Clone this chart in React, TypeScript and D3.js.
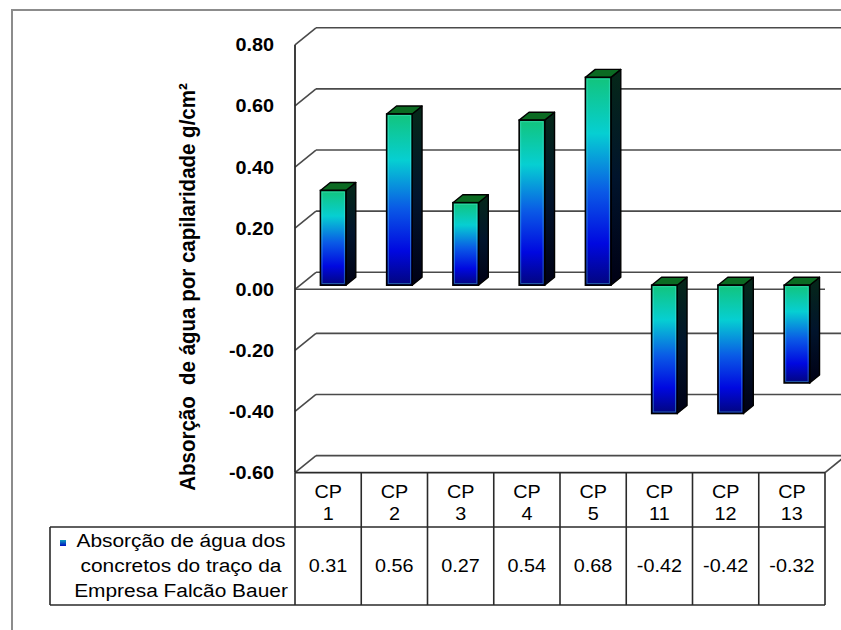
import React from "react";
import * as d3 from "d3";

// Specimens and their capillary water absorption (g/cm²)
const categories = ["CP 1", "CP 2", "CP 3", "CP 4", "CP 5", "CP 11", "CP 12", "CP 13"];
const values = [0.31, 0.56, 0.27, 0.54, 0.68, -0.42, -0.42, -0.32];
const yTicks = [-0.6, -0.4, -0.2, 0, 0.2, 0.4, 0.6, 0.8];
const seriesLabel = ["Absorção de água dos", "concretos do traço da", "Empresa Falcão Bauer"];
const axisTitle = "Absorção  de água por capilaridade g/cm²";

const W = 841;
const H = 630;
const FONT = "'Liberation Sans', Arial, Helvetica, sans-serif";
const SX = 1.1; // horizontal text stretch

// 3D plot geometry
const PLOT_LEFT = 295;
const PLOT_RIGHT = 825;
const DX = 21; // depth offset of back wall
const DY = -17;
const Z0 = 0.24; // bar front depth (fraction of wall depth)
const Z1 = 0.71; // bar back depth
const BAR_FRAC = 0.385;

const TABLE_SPLIT = 527;
const TABLE_BOTTOM = 605;
const LEGEND_LEFT = 50;

const GRID = "#4a4a4a";
const LINE = "#2a2a2a";

const fmt = (v: number) => v.toFixed(2);

function SText(props: {
  x: number;
  y: number;
  anchor?: "start" | "middle" | "end";
  size: number;
  bold?: boolean;
  children: React.ReactNode;
}) {
  const { x, y, anchor = "middle", size, bold, children } = props;
  return (
    <g transform={`translate(${x},${y}) scale(${SX},1)`}>
      <text
        x={0}
        y={0}
        textAnchor={anchor}
        fontFamily={FONT}
        fontSize={size}
        fontWeight={bold ? "bold" : "normal"}
        fill="#000"
      >
        {children}
      </text>
    </g>
  );
}

export default function App() {
  const x = d3.scaleBand<string>().domain(categories).range([PLOT_LEFT, PLOT_RIGHT]).padding(0);
  const y = d3.scaleLinear().domain([-0.6, 0.8]).range([472.6, 44.8]);
  const bw = x.bandwidth();
  const yMin = y(-0.6);
  const y0 = y(0);

  const ddx = DX * (Z1 - Z0);
  const ddy = DY * (Z1 - Z0);

  return (
    <svg
      width={W}
      height={H}
      viewBox={`0 0 ${W} ${H}`}
      style={{ position: "absolute", left: 0, top: 0, background: "#fff" }}
    >
      <defs>
        <linearGradient id="barFront" x1="0" y1="0" x2="0" y2="1">
          <stop offset="0" stopColor="#12c47c" />
          <stop offset="0.27" stopColor="#06cfd2" />
          <stop offset="0.55" stopColor="#0a5ae6" />
          <stop offset="0.8" stopColor="#0008e0" />
          <stop offset="1" stopColor="#02057e" />
        </linearGradient>
        <linearGradient id="barSide" x1="0" y1="0" x2="0" y2="1">
          <stop offset="0" stopColor="#052818" />
          <stop offset="0.5" stopColor="#01142c" />
          <stop offset="1" stopColor="#000014" />
        </linearGradient>
        <linearGradient id="legendKey" x1="0" y1="0" x2="0" y2="1">
          <stop offset="0" stopColor="#10a0c0" />
          <stop offset="1" stopColor="#0010c0" />
        </linearGradient>
      </defs>

      <rect x={0} y={0} width={W} height={H} fill="#fff" />

      {/* chart frame */}
      <rect x={12} y={10} width={W} height={H} fill="none" stroke="#8c8c8c" strokeWidth={2} />

      {/* back wall gridlines and side wall ticks */}
      {yTicks.map((t) => (
        <g key={`g${t}`}>
          <line
            x1={PLOT_LEFT + DX}
            x2={PLOT_RIGHT + DX}
            y1={y(t) + DY}
            y2={y(t) + DY}
            stroke={GRID}
            strokeWidth={1.6}
          />
          <line
            x1={PLOT_LEFT}
            x2={PLOT_LEFT + DX}
            y1={y(t)}
            y2={y(t) + DY}
            stroke={GRID}
            strokeWidth={1.6}
          />
        </g>
      ))}

      {/* floor front edge at zero */}
      <line x1={PLOT_LEFT} x2={PLOT_RIGHT} y1={y0} y2={y0} stroke={GRID} strokeWidth={1.6} />

      {/* bottom floor edge */}
      <line x1={PLOT_LEFT} x2={PLOT_RIGHT} y1={yMin} y2={yMin} stroke={LINE} strokeWidth={1.6} />
      <line x1={PLOT_RIGHT} x2={PLOT_RIGHT + DX} y1={yMin} y2={yMin + DY} stroke={GRID} strokeWidth={1.6} />

      {/* value axis line */}
      <line x1={PLOT_LEFT} x2={PLOT_LEFT} y1={y(0.8)} y2={yMin} stroke={LINE} strokeWidth={1.8} />

      {/* columns */}
      {categories.map((c, i) => {
        const v = values[i];
        const bx0 = (x(c) as number) + (bw * (1 - BAR_FRAC)) / 2 + DX * Z0;
        const bx1 = bx0 + bw * BAR_FRAC;
        const yv = y(v) + DY * Z0;
        const yz = y0 + DY * Z0;
        const top = Math.min(yv, yz);
        const bottom = Math.max(yv, yz);
        const side = [
          [bx1, top],
          [bx1 + ddx, top + ddy],
          [bx1 + ddx, bottom + ddy],
          [bx1, bottom],
        ];
        const lid = [
          [bx0, top],
          [bx0 + ddx, top + ddy],
          [bx1 + ddx, top + ddy],
          [bx1, top],
        ];
        const pts = (p: number[][]) => p.map((q) => q.join(",")).join(" ");
        return (
          <g key={c}>
            <polygon points={pts(side)} fill="url(#barSide)" stroke="#000" strokeWidth={1.4} strokeLinejoin="round" />
            <polygon points={pts(lid)} fill="#0b6a22" stroke="#000" strokeWidth={1.4} strokeLinejoin="round" />
            <rect
              x={bx0}
              y={top}
              width={bx1 - bx0}
              height={bottom - top}
              fill="url(#barFront)"
              stroke="#000"
              strokeWidth={1.6}
            />
            <rect
              x={bx0 + 1.6}
              y={top + 1.6}
              width={bx1 - bx0 - 3.2}
              height={bottom - top - 3.2}
              fill="none"
              stroke="#5ff0e0"
              strokeOpacity={0.45}
              strokeWidth={0.8}
            />
          </g>
        );
      })}

      {/* value axis labels */}
      {yTicks.map((t) => (
        <SText key={`t${t}`} x={274} y={y(t) + 6.5} anchor="end" size={18} bold>
          {fmt(t)}
        </SText>
      ))}

      {/* value axis title */}
      <g transform={`translate(187,287) scale(${SX},1) rotate(-90)`}>
        <text
          x={0}
          y={7}
          textAnchor="middle"
          fontFamily={FONT}
          fontSize={20.5}
          fontWeight="bold"
          style={{ whiteSpace: "pre" }}
        >
          {axisTitle}
        </text>
      </g>

      {/* data table */}
      <g>
        <line x1={LEGEND_LEFT} x2={PLOT_RIGHT} y1={TABLE_SPLIT} y2={TABLE_SPLIT} stroke={LINE} strokeWidth={1.6} />
        <line x1={LEGEND_LEFT} x2={PLOT_RIGHT} y1={TABLE_BOTTOM} y2={TABLE_BOTTOM} stroke={LINE} strokeWidth={1.6} />
        <line x1={LEGEND_LEFT} x2={LEGEND_LEFT} y1={TABLE_SPLIT} y2={TABLE_BOTTOM} stroke={LINE} strokeWidth={1.6} />
        {[...categories.map((c) => x(c) as number), PLOT_RIGHT].map((bx, i) => (
          <line key={`v${i}`} x1={bx} x2={bx} y1={yMin} y2={TABLE_BOTTOM} stroke={LINE} strokeWidth={1.6} />
        ))}
        {categories.map((c, i) => {
          const cx = (x(c) as number) + bw / 2;
          const [a, b] = c.split(" ");
          return (
            <g key={`h${c}`}>
              <SText x={cx} y={498} size={18}>
                {a}
              </SText>
              <SText x={cx} y={520} size={18}>
                {b}
              </SText>
              <SText x={cx} y={572} size={18}>
                {fmt(values[i])}
              </SText>
            </g>
          );
        })}
        <rect x={60} y={540} width={6} height={6} fill="url(#legendKey)" />
        {seriesLabel.map((s, i) => (
          <SText key={s} x={181} y={547 + i * 25} size={19}>
            {s}
          </SText>
        ))}
      </g>
    </svg>
  );
}
